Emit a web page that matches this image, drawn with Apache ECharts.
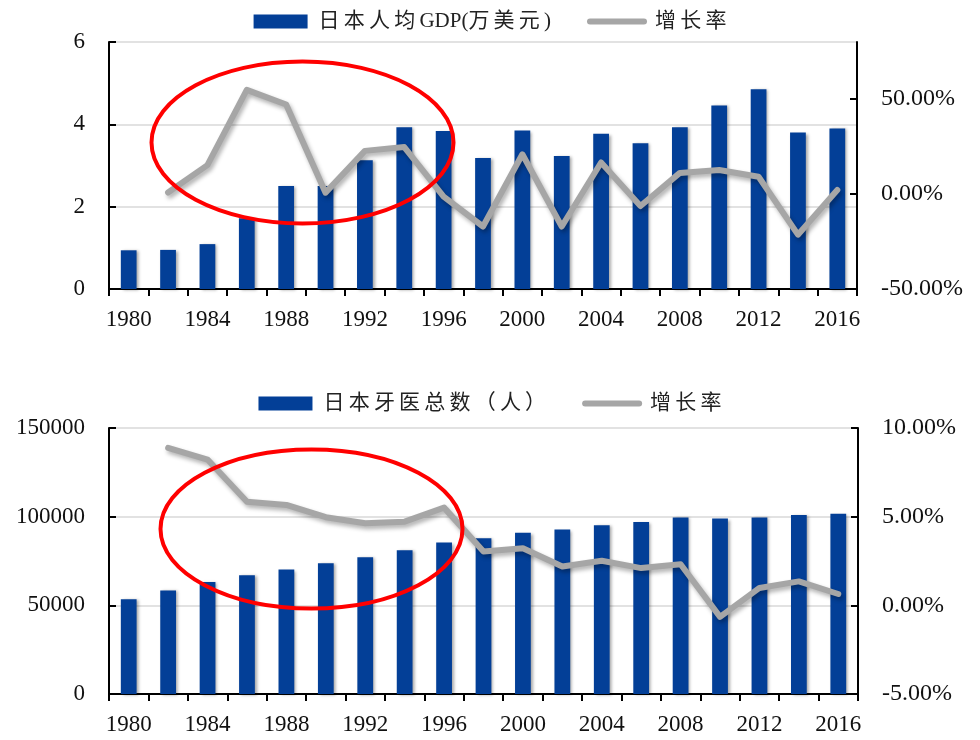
<!DOCTYPE html>
<html>
<head>
<meta charset="utf-8">
<script src="https://cdn.jsdelivr.net/npm/echarts@6/dist/echarts.min.js"></script>
<style>
  html, body { margin: 0; padding: 0; background: #ffffff; }
  #chart { width: 980px; height: 740px; }
</style>
</head>
<body>
<div id="chart"></div>
<script>
// Years on the shared category axis (every two years)
const years = ['1980','1982','1984','1986','1988','1990','1992','1994','1996','1998',
               '2000','2002','2004','2006','2008','2010','2012','2014','2016'];

// Japan GDP per capita, 10,000 USD
const gdpPerCapita = [0.94, 0.95, 1.09, 1.72, 2.50, 2.50, 3.13, 3.93, 3.84, 3.18,
                      3.85, 3.23, 3.77, 3.54, 3.93, 4.46, 4.85, 3.80, 3.90];
// GDP per capita growth rate, %
const gdpGrowth = [null, 0.8, 15.2, 54.8, 47.1, 0.7, 22.7, 24.7, -1.4, -17.1,
                   20.9, -17.1, 16.6, -6.3, 11.1, 12.6, 9.1, -21.4, 2.1];

// Number of dentists in Japan
const dentists = [53400, 58400, 63100, 66900, 70200, 73800, 77100, 81100, 85400, 87800,
                  91000, 92700, 95100, 97000, 99600, 98900, 99600, 100900, 101700];
// Dentist count growth rate, %
const dentistGrowth = [null, 8.88, 8.22, 5.84, 5.66, 4.97, 4.63, 4.72, 5.51, 3.03,
                       3.22, 2.19, 2.51, 2.10, 2.32, -0.65, 0.98, 1.35, 0.64];

// Tick values
const gdpTicks = [0, 2, 4, 6];
const gdpGrowthTicks = [-50, 0, 50];
const dentistTicks = [0, 50000, 100000, 150000];
const dentistGrowthTicks = [-5, 0, 5, 10];

const BAR = '#033f97';
const LINE = '#a6a6a6';
const NUM_FONT = '"Liberation Serif", "Noto Sans CJK SC", serif';
// widen the spacing after CJK characters in legend labels
const spaced = s => s.replace(/([\u3000-\u9fff\uff00-\uffef])/g, '$1\u2009').trim();

const axisLine = { show: true, lineStyle: { color: '#000', width: 2 } };
const tickIn = { show: true, inside: true, length: 7, lineStyle: { color: '#000', width: 2 } };
const numLabel = { color: '#111', fontFamily: NUM_FONT, fontSize: 23, margin: 24 };
const pctLabel = Object.assign({}, numLabel, { fontSize: 24 });
const plain = v => String(v);
const pct = v => v.toFixed(2) + '%';

function xAxisFor(gridIndex) {
  return {
    type: 'category', gridIndex, data: years, boundaryGap: true,
    axisLine, axisTick: { show: true, inside: false, length: 7, interval: 0,
                          lineStyle: { color: '#000', width: 2 } },
    axisLabel: Object.assign({}, numLabel, { interval: 1, margin: 19 }),
    splitLine: { show: false }
  };
}

const barShadow = { shadowBlur: 3, shadowOffsetX: 2, shadowOffsetY: 1, shadowColor: 'rgba(0,0,0,0.35)' };
const lineStyle = { color: LINE, width: 6, cap: 'round', join: 'round',
                    shadowBlur: 4, shadowOffsetX: 2, shadowOffsetY: 3, shadowColor: 'rgba(0,0,0,0.3)' };

const legendText = { fontFamily: NUM_FONT, fontSize: 21, color: '#222', padding: [0, 0, 0, 6] };
const legendLine = { itemStyle: { opacity: 0 },
                     lineStyle: { color: LINE, width: 6, cap: 'round', shadowBlur: 0 } };

const option = {
  animation: false,
  backgroundColor: '#fff',
  legend: [
    { top: 6, left: 'center', itemWidth: 54, itemHeight: 14, itemGap: 36,
      data: [{ name: '日本人均GDP(万美元)', icon: 'rect' }, Object.assign({ name: '增长率' }, legendLine)],
      formatter: spaced, textStyle: legendText },
    { top: 388, left: 'center', itemWidth: 54, itemHeight: 14, itemGap: 36,
      data: [{ name: '日本牙医总数（人）', icon: 'rect' }, Object.assign({ name: '增长率 ' }, legendLine)],
      formatter: spaced, textStyle: legendText }
  ],
  grid: [
    { left: 109, right: 123, top: 42, height: 247 },
    { left: 109, right: 122, top: 428, height: 266 }
  ],
  xAxis: [xAxisFor(0), xAxisFor(1)],
  yAxis: [
    { type: 'value', gridIndex: 0, min: gdpTicks[0], max: gdpTicks[gdpTicks.length - 1], interval: 2,
      axisLine, axisTick: tickIn, axisLabel: Object.assign({}, numLabel, { formatter: plain }),
      splitLine: { show: true, lineStyle: { color: '#d9d9d9', width: 1.5 } } },
    { type: 'value', gridIndex: 0, position: 'right', min: -50, max: 80, interval: 50,
      axisLine, splitLine: { show: false },
      axisTick: Object.assign({}, tickIn, { customValues: gdpGrowthTicks }),
      axisLabel: Object.assign({}, pctLabel, { customValues: gdpGrowthTicks, formatter: pct }) },
    { type: 'value', gridIndex: 1, min: dentistTicks[0], max: dentistTicks[dentistTicks.length - 1], interval: 50000,
      axisLine, axisTick: tickIn, axisLabel: Object.assign({}, numLabel, { formatter: plain }),
      splitLine: { show: true, lineStyle: { color: '#d9d9d9', width: 1.5 } } },
    { type: 'value', gridIndex: 1, position: 'right', min: dentistGrowthTicks[0],
      max: dentistGrowthTicks[dentistGrowthTicks.length - 1], interval: 5,
      axisLine, axisTick: tickIn, splitLine: { show: false },
      axisLabel: Object.assign({}, pctLabel, { formatter: pct }) }
  ],
  series: [
    { name: '日本人均GDP(万美元)', type: 'bar', xAxisIndex: 0, yAxisIndex: 0, data: gdpPerCapita,
      barWidth: '40%', itemStyle: Object.assign({ color: BAR }, barShadow), z: 2 },
    { name: '增长率', type: 'line', xAxisIndex: 0, yAxisIndex: 1, data: gdpGrowth,
      symbol: 'none', lineStyle, itemStyle: { color: LINE }, z: 3 },
    { name: '日本牙医总数（人）', type: 'bar', xAxisIndex: 1, yAxisIndex: 2, data: dentists,
      barWidth: '40%', itemStyle: Object.assign({ color: BAR }, barShadow), z: 2 },
    { name: '增长率 ', type: 'line', xAxisIndex: 1, yAxisIndex: 3, data: dentistGrowth,
      symbol: 'none', lineStyle, itemStyle: { color: LINE }, z: 3 }
  ],
  // Red highlight ellipses around the late-1980s / early-1990s period
  graphic: [
    { type: 'ellipse', z: 100, silent: true,
      shape: { cx: 302.5, cy: 142.5, rx: 151, ry: 81 },
      style: { fill: 'none', stroke: '#ff0000', lineWidth: 4 } },
    { type: 'ellipse', z: 100, silent: true,
      shape: { cx: 311.5, cy: 529, rx: 151, ry: 79.5 },
      style: { fill: 'none', stroke: '#ff0000', lineWidth: 4 } }
  ]
};

const chart = echarts.init(document.getElementById('chart'), null, { renderer: 'canvas' });
chart.setOption(option);
</script>
</body>
</html>
